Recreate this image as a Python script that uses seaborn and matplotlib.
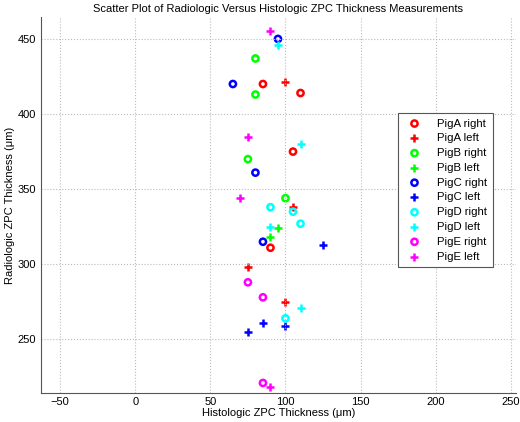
import numpy as np
import seaborn as sns
import matplotlib
matplotlib.use('Agg')
import matplotlib.pyplot as plt
import pandas as pd

# Значения: (гистология, радиология) для каждой свиньи и стороны
pig_labels = ['PigA right', 'PigA left', 'PigB right', 'PigB left', 'PigC right',
              'PigC left', 'PigD right', 'PigD left', 'PigE right', 'PigE left']
pig_colors = ['red', 'red', 'lime', 'lime', 'blue', 'blue', 'cyan', 'cyan', 'magenta', 'magenta']

histo = {
    'PigA right': [85, 110, 105, 90],
    'PigA left': [100, 105, 75, 100],
    'PigB right': [80, 80, 75, 100],
    'PigB left': [95, 90],
    'PigC right': [95, 65, 80, 85],
    'PigC left': [125, 100, 85, 75],
    'PigD right': [90, 105, 110, 100],
    'PigD left': [95, 110, 90, 110],
    'PigE right': [75, 85, 85],
    'PigE left': [90, 75, 70, 90],
}
radio = {
    'PigA right': [420, 414, 375, 311],
    'PigA left': [421, 338, 298, 275],
    'PigB right': [437, 413, 370, 344],
    'PigB left': [324, 318],
    'PigC right': [450, 420, 361, 315],
    'PigC left': [313, 259, 261, 255],
    'PigD right': [338, 335, 327, 264],
    'PigD left': [446, 380, 325, 271],
    'PigE right': [288, 278, 221],
    'PigE left': [455, 385, 344, 218],
}

rows = []
for lab in pig_labels:
    for h, r in zip(histo[lab], radio[lab]):
        rows.append({'group': lab, 'histo': h, 'radio': r})
df = pd.DataFrame(rows)

plt.rcParams['font.family'] = ['Liberation Sans', 'DejaVu Sans']
plt.rcParams['font.size'] = 8

fig = plt.figure(figsize=(5.2, 4.22), dpi=100)
ax = fig.add_axes([0.078, 0.0694, 0.914, 0.8896])

for lab, col in zip(pig_labels, pig_colors):
    sub = df[df['group'] == lab]
    if 'right' in lab:
        sns.scatterplot(data=sub, x='histo', y='radio', ax=ax, marker='o', s=20,
                        facecolor='none', edgecolor=col, linewidth=1.8, label=lab)
    else:
        sns.scatterplot(data=sub, x='histo', y='radio', ax=ax, marker='+', s=30,
                        color=col, linewidth=1.8, label=lab)

ax.set_xlim(-63, 253.3)
ax.set_ylim(214.5, 464.4)
ax.set_xticks([-50, 0, 50, 100, 150, 200, 250])
ax.set_yticks([250, 300, 350, 400, 450])
ax.grid(True, linestyle=':', color='#bbbbbb', linewidth=0.8)
ax.spines['top'].set_visible(False)
ax.spines['right'].set_visible(False)
ax.spines['left'].set_color('#555555')
ax.spines['bottom'].set_color('#555555')
ax.tick_params(direction='in', length=0, colors='black', labelsize=8, pad=3)

ax.set_xlabel('Histologic ZPC Thickness (\u03bcm)', fontsize=8, labelpad=1)
ax.set_ylabel('Radiologic ZPC Thickness (\u03bcm)', fontsize=8, labelpad=2)
ax.set_title('Scatter Plot of Radiologic Versus Histologic ZPC Thickness Measurements',
             fontsize=8, pad=4)

leg = ax.legend(loc='upper left', bbox_to_anchor=(0.752, 0.744), fontsize=8.2,
                fancybox=False, framealpha=1, edgecolor='#555555',
                handlelength=2.0, handletextpad=1.0, labelspacing=0.42,
                borderpad=0.45, borderaxespad=0)
leg.get_frame().set_linewidth(0.8)

fig.savefig('out.png', dpi=100)
